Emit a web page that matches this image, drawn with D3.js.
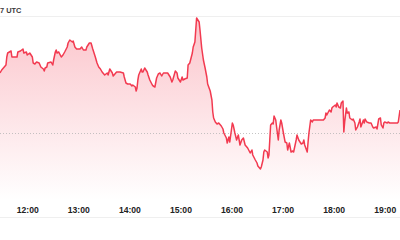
<!DOCTYPE html>
<html>
<head>
<meta charset="utf-8">
<script src="https://cdn.jsdelivr.net/npm/d3@7"></script>
<style>
  html, body { margin: 0; padding: 0; background: #fff; }
  svg { display: block; font-family: "Liberation Sans", Arial, sans-serif; }
</style>
</head>
<body>
<svg id="chart" width="400" height="240"></svg>
<script>
// intraday prices (UTC)
let times = [
  '11:28','11:30','11:33','11:35','11:36','11:37','11:41','11:42','11:43','11:48',
  '11:49','11:52','11:55','11:56','11:59','12:00','12:03','12:06','12:07','12:09',
  '12:11','12:14','12:16','12:19','12:20','12:21','12:23','12:24','12:28','12:30',
  '12:31','12:33','12:34','12:35','12:37','12:40','12:42','12:44','12:47','12:48',
  '12:50','12:53','12:54','12:56','12:58','13:02','13:04','13:06','13:09','13:10',
  '13:13','13:15','13:17','13:20','13:22','13:24','13:26','13:28','13:29','13:31',
  '13:34','13:35','13:37','13:40','13:41','13:43','13:45','13:49','13:53','13:54',
  '13:56','13:58','14:01','14:03','14:04','14:07','14:08','14:09','14:10','14:11',
  '14:14','14:15','14:16','14:18','14:21','14:22','14:24','14:27','14:28','14:30',
  '14:32','14:34','14:36','14:38','14:40','14:43','14:45','14:48','14:50','14:51',
  '14:54','14:56','14:57','15:00','15:02','15:03','15:05','15:08','15:09','15:11',
  '15:14','15:15','15:17','15:18','15:19','15:22','15:23','15:25','15:27','15:29',
  '15:31','15:32','15:35','15:37','15:38','15:39','15:41','15:43','15:45','15:48',
  '15:50','15:51','15:54','15:55','15:57','15:58','16:01','16:02','16:04','16:06',
  '16:08','16:10','16:12','16:14','16:16','16:18','16:19','16:22','16:24','16:25',
  '16:28','16:30','16:31','16:34','16:35','16:37','16:38','16:39','16:42','16:43',
  '16:44','16:45','16:46','16:48','16:49','16:50','16:52','16:53','16:55','16:56',
  '16:58','16:59','17:01','17:03','17:05','17:06','17:08','17:10','17:12','17:13',
  '17:16','17:17','17:19','17:22','17:24','17:25','17:26','17:29','17:30','17:31',
  '17:33','17:35','17:36','17:40','17:44','17:48','17:50','17:51','17:52','17:55',
  '17:57','17:58','17:59','18:02','18:03','18:04','18:06','18:08','18:09','18:11',
  '18:12','18:13','18:15','18:16','18:18','18:19','18:22','18:23','18:25','18:26',
  '18:28','18:30','18:31','18:32','18:35','18:36','18:37','18:39','18:42','18:44',
  '18:46','18:47','18:50','18:51','18:53','18:55','18:56','18:58','18:59','19:00',
  '19:03','19:04','19:06','19:09','19:10','19:12','19:15','19:16','19:18'
];

let prices = [
  51.20,51.26,51.32,51.36,51.52,51.60,51.64,51.52,51.52,51.52,
  51.62,51.64,51.68,51.60,51.62,51.56,51.60,51.52,51.40,51.38,
  51.42,51.40,51.32,51.28,51.24,51.30,51.32,51.40,51.42,51.36,
  51.46,51.62,51.66,51.60,51.62,51.52,51.56,51.62,51.72,51.80,
  51.86,51.82,51.84,51.72,51.68,51.68,51.72,51.66,51.66,51.72,
  51.80,51.80,51.68,51.52,51.40,51.32,51.28,51.22,51.20,51.16,
  51.20,51.16,51.28,51.20,51.14,51.18,51.22,51.22,51.20,51.12,
  51.00,50.98,50.98,50.94,50.96,50.92,50.84,50.90,51.06,51.16,
  51.28,51.22,51.22,51.30,51.22,51.16,51.06,50.96,50.94,50.92,
  51.10,51.18,51.20,51.14,51.20,51.20,51.20,51.12,51.02,51.06,
  51.24,51.20,51.10,51.02,51.12,51.06,51.08,51.10,51.36,51.40,
  51.60,51.72,51.82,52.06,52.30,52.22,52.06,51.70,51.46,51.30,
  51.12,50.98,50.84,50.66,50.42,50.30,50.22,50.18,50.20,50.14,
  50.08,50.00,49.90,49.80,49.92,49.82,50.20,50.16,50.00,49.86,
  49.96,49.76,49.86,49.90,49.76,49.72,49.70,49.60,49.66,49.56,
  49.46,49.40,49.34,49.28,49.32,49.46,49.62,49.66,49.62,49.50,
  49.56,49.86,50.16,50.20,50.18,50.34,50.26,50.12,49.86,50.06,
  50.26,50.20,50.00,49.82,49.80,49.66,49.80,49.62,49.64,49.62,
  49.86,49.96,49.86,49.78,49.80,49.86,49.76,49.62,49.82,50.00,
  50.26,50.22,50.26,50.26,50.26,50.26,50.30,50.40,50.36,50.46,
  50.42,50.50,50.52,50.56,50.52,50.60,50.52,50.50,50.60,50.64,
  50.02,50.22,50.50,50.40,50.42,50.30,50.26,50.28,50.20,50.06,
  50.12,50.22,50.28,50.12,50.26,50.20,50.28,50.22,50.20,50.20,
  50.12,50.10,50.12,50.08,50.28,50.30,50.16,50.10,50.20,50.22,
  50.20,50.22,50.20,50.20,50.20,50.20,50.20,50.22,50.46
];

let prevClose = 50.00;
let sessionStart = '11:28';
let sessionEnd = '19:18';
let stampText = '7 UTC';

let parseTime = d3.timeParse('%H:%M');
let data = times.map((t, i) => ({ date: parseTime(t), price: prices[i] }));

let svg = d3.select('#chart');
let width = 400;
let plotTop = 18, plotBottom = 169, areaBottom = 200;

let x = d3.scaleTime()
  .domain([parseTime(sessionStart), parseTime(sessionEnd)])
  .range([0, width]);

let y = d3.scaleLinear()
  .domain(d3.extent(prices))
  .range([plotBottom, plotTop]);

let lineColor = '#f23a50';

// gradient under the line
let grad = svg.append('defs').append('linearGradient')
  .attr('id', 'fade')
  .attr('gradientUnits', 'userSpaceOnUse')
  .attr('x1', 0).attr('x2', 0)
  .attr('y1', plotTop).attr('y2', areaBottom);
grad.append('stop').attr('offset', 0).attr('stop-color', lineColor).attr('stop-opacity', 0.3);
grad.append('stop').attr('offset', 1).attr('stop-color', lineColor).attr('stop-opacity', 0);

// thin separators
svg.append('line')
  .attr('x1', 0).attr('x2', width).attr('y1', 16.5).attr('y2', 16.5)
  .attr('stroke', '#efefef');
svg.append('line')
  .attr('x1', 0).attr('x2', width).attr('y1', 217.5).attr('y2', 217.5)
  .attr('stroke', '#efefef');

svg.append('text')
  .attr('x', 0).attr('y', 13)
  .attr('font-size', 7.4)
  .attr('font-weight', 'bold')
  .attr('fill', '#3a3a3a')
  .text(stampText);

let area = d3.area()
  .x(d => x(d.date))
  .y0(areaBottom)
  .y1(d => y(d.price));

let line = d3.line()
  .x(d => x(d.date))
  .y(d => y(d.price));

svg.append('path')
  .datum(data)
  .attr('d', area)
  .attr('fill', 'url(#fade)');

// previous close
svg.append('line')
  .attr('x1', 0).attr('x2', width)
  .attr('y1', Math.round(y(prevClose)) + 0.5).attr('y2', Math.round(y(prevClose)) + 0.5)
  .attr('stroke', '#b5b5b5')
  .attr('stroke-width', 0.8)
  .attr('stroke-dasharray', '1 2');

svg.append('path')
  .datum(data)
  .attr('d', line)
  .attr('fill', 'none')
  .attr('stroke', lineColor)
  .attr('stroke-width', 1.5)
  .attr('stroke-linejoin', 'round');

let xAxis = d3.axisBottom(x)
  .ticks(d3.timeHour.every(1))
  .tickFormat(d3.timeFormat('%H:%M'))
  .tickSize(0)
  .tickPadding(0);

let gx = svg.append('g')
  .attr('transform', `translate(0,${206.5})`)
  .call(xAxis);
gx.select('.domain').remove();
gx.selectAll('text')
  .attr('font-family', '"Liberation Sans", Arial, sans-serif')
  .attr('font-size', 8.6)
  .attr('font-weight', 'bold')
  .attr('fill', '#222');
</script>
</body>
</html>
